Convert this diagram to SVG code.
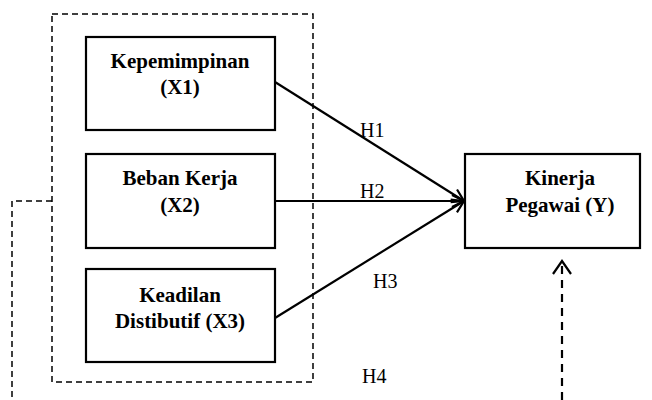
<svg xmlns="http://www.w3.org/2000/svg" width="652" height="400" viewBox="0 0 652 400">
<style>
.box{fill:#fff;stroke:#000;stroke-width:2.2}
.t{font-family:"Liberation Serif","Times New Roman",serif;font-weight:bold;font-size:21px;text-anchor:middle;fill:#000}
.h{font-family:"Liberation Serif","Times New Roman",serif;font-size:20px;fill:#000}
.arr{stroke:#000;stroke-width:2.2;fill:none}
.dash{stroke:#000;stroke-width:1.5;fill:none;stroke-dasharray:6 4}
</style>
<defs>
<marker id="open" viewBox="0 0 14 14" refX="13" refY="7" markerWidth="14" markerHeight="14" markerUnits="userSpaceOnUse" orient="auto">
<path d="M1,1 L13,7 L1,13" fill="none" stroke="#000" stroke-width="2.2"/>
</marker>
</defs>
<g id="group-box">
<rect x="52" y="14" width="261" height="368" class="dash"/>
</g>
<g id="connectors">
<line x1="275" y1="82" x2="464" y2="201" class="arr" marker-end="url(#open)"/>
<line x1="275" y1="201" x2="464" y2="201" class="arr" marker-end="url(#open)"/>
<line x1="275" y1="318" x2="464" y2="201" class="arr" marker-end="url(#open)"/>
<path d="M52,201 H12 V400" class="dash"/>
<path d="M562,400 V264" fill="none" stroke="#000" stroke-width="2.2" stroke-dasharray="8 6"/>
<path d="M553,274 L562,261 L571,274" fill="none" stroke="#000" stroke-width="2.2"/>
<text class="h" x="360" y="137">H1</text>
<text class="h" x="360" y="198">H2</text>
<text class="h" x="373" y="288">H3</text>
<text class="h" x="362" y="383">H4</text>
</g>
<g id="x1">
<rect x="86" y="37" width="189" height="93" class="box"/>
<text class="t" x="180" y="68">Kepemimpinan</text>
<text class="t" x="180" y="94">(X1)</text>
</g>
<g id="x2">
<rect x="86" y="154" width="189" height="94" class="box"/>
<text class="t" x="180" y="185">Beban Kerja</text>
<text class="t" x="180" y="212">(X2)</text>
</g>
<g id="x3">
<rect x="86" y="269" width="189" height="93" class="box"/>
<text class="t" x="180" y="302">Keadilan</text>
<text class="t" x="180" y="328">Distibutif (X3)</text>
</g>
<g id="y">
<rect x="465" y="154" width="175" height="94" class="box"/>
<text class="t" x="560" y="185">Kinerja</text>
<text class="t" x="560" y="212">Pegawai (Y)</text>
</g>
</svg>
